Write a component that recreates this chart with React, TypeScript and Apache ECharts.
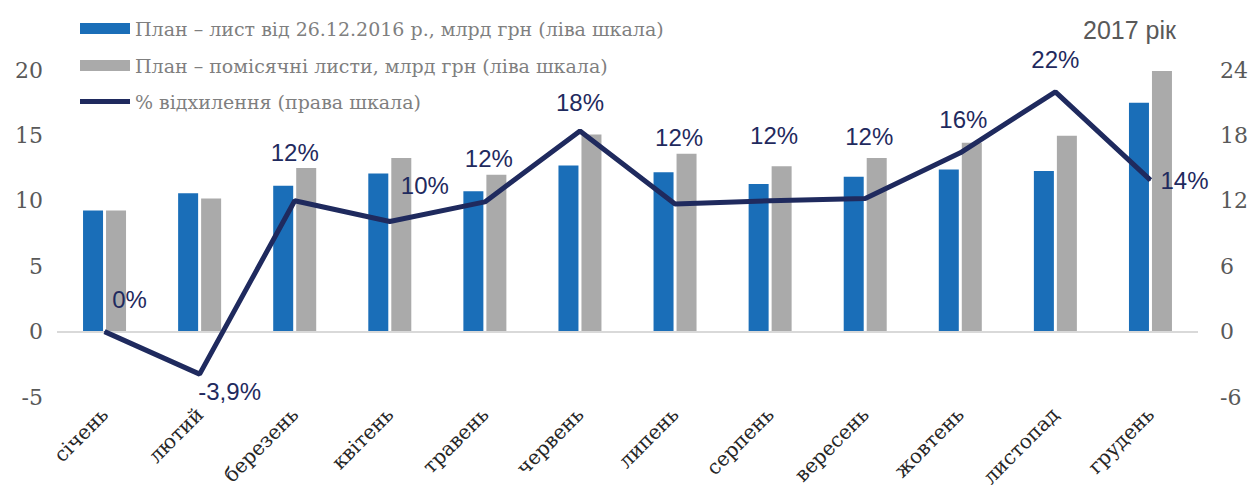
import React, { useEffect, useRef } from "react";
import * as echarts from "echarts";

const months = ["січень", "лютий", "березень", "квітень", "травень", "червень", "липень", "серпень", "вересень", "жовтень", "листопад", "грудень"];
const planDec = [9.25, 10.57, 11.16, 12.08, 10.73, 12.69, 12.18, 11.29, 11.83, 12.39, 12.28, 17.5];
const planMonthly = [9.25, 10.17, 12.5, 13.28, 12.0, 15.06, 13.6, 12.64, 13.28, 14.43, 14.98, 19.93];
const deviation = [0, -3.9, 12.0, 10.1, 11.9, 18.4, 11.7, 12.0, 12.2, 16.4, 22.0, 13.9];
const deviationLabels = ["0%", "-3,9%", "12%", "10%", "12%", "18%", "12%", "12%", "12%", "16%", "22%", "14%"];
const leftTicks = { min: -5, max: 20, interval: 5 };
const rightTicks = { min: -6, max: 24, interval: 6 };

const seriesNames = [
  "План – лист від 26.12.2016 р., млрд грн (ліва шкала)",
  "План – помісячні листи, млрд грн (ліва шкала)",
  "% відхилення (права шкала)",
];

// label offsets (style only), px from the point
const labelOffsets: [number, number][] = [
  [25, -32], [30, 17], [0, -48], [35, -36], [4, -43], [0, -29],
  [4, -67], [4, -65], [4, -62], [3, -33], [0, -32], [34, 0],
];

export default function App() {
  const ref = useRef<HTMLDivElement>(null);
  useEffect(() => {
    if (!ref.current) return;
    document.body.style.margin = "0";
    const chart = echarts.init(ref.current, null, { renderer: "svg" });
    const navy = "#1F2A5E";
    const legendText = { fontFamily: "DejaVu Serif", fontSize: 19, color: "#7F7F7F", lineHeight: 21 };
    chart.setOption({
      animation: false,
      backgroundColor: "#ffffff",
      title: {
        text: "2017 рік",
        left: 1083,
        top: 17,
        padding: 0,
        textStyle: { fontFamily: "Liberation Sans", fontSize: 25, fontWeight: "normal", color: "#595959" },
      },
      legend: [
        {
          orient: "vertical",
          left: 80,
          top: 18,
          padding: 0,
          itemWidth: 50,
          itemHeight: 11,
          itemGap: 16,
          textStyle: legendText,
          data: [
            { name: seriesNames[0], icon: "rect" },
            { name: seriesNames[1], icon: "rect" },
          ],
        },
        {
          orient: "vertical",
          left: 80,
          top: 91,
          padding: 0,
          itemWidth: 50,
          itemHeight: 5,
          textStyle: legendText,
          data: [{ name: seriesNames[2], icon: "rect", itemStyle: { color: navy } }],
        },
      ],
      grid: { left: 57, right: 50, top: 70, bottom: 96, containLabel: false },
      xAxis: {
        type: "category",
        data: months,
        axisLine: { show: false, onZero: false },
        axisTick: { show: false },
        axisLabel: {
          rotate: 45,
          margin: 14,
          interval: 0,
          fontFamily: "DejaVu Serif",
          fontSize: 20,
          color: "#262626",
        },
      },
      yAxis: [
        {
          type: "value",
          min: leftTicks.min,
          max: leftTicks.max,
          interval: leftTicks.interval,
          splitLine: { show: false },
          axisLine: { show: false },
          axisTick: { show: false },
          axisLabel: { margin: 14, fontFamily: "DejaVu Serif", fontSize: 22, color: "#595959" },
        },
        {
          type: "value",
          min: rightTicks.min,
          max: rightTicks.max,
          interval: rightTicks.interval,
          splitLine: { show: false },
          axisLine: { show: false },
          axisTick: { show: false },
          axisLabel: { margin: 22, fontFamily: "DejaVu Serif", fontSize: 22, color: "#595959" },
        },
      ],
      series: [
        {
          name: seriesNames[0],
          type: "bar",
          data: planDec,
          barWidth: 20,
          barGap: "15%",
          itemStyle: { color: "#1A6EB8" },
          markLine: {
            silent: true,
            symbol: "none",
            label: { show: false },
            lineStyle: { color: "#D9D9D9", width: 2, type: "solid" },
            data: [{ yAxis: 0 }],
          },
        },
        {
          name: seriesNames[1],
          type: "bar",
          data: planMonthly,
          barWidth: 20,
          itemStyle: { color: "#AAAAAA" },
        },
        {
          name: seriesNames[2],
          type: "line",
          yAxisIndex: 1,
          symbol: "circle",
          symbolSize: 1,
          showSymbol: true,
          z: 5,
          lineStyle: { color: navy, width: 5 },
          itemStyle: { color: navy },
          data: deviation.map((v, i) => ({
            value: v,
            label: { offset: labelOffsets[i] },
          })),
          label: {
            show: true,
            position: "inside",
            align: "center",
            verticalAlign: "middle",
            fontFamily: "Liberation Sans",
            fontSize: 24,
            color: navy,
            formatter: (p: any) => deviationLabels[p.dataIndex],
          },
        },
      ],
    });
    return () => chart.dispose();
  }, []);
  return <div ref={ref} style={{ width: 1251, height: 493 }} />;
}
